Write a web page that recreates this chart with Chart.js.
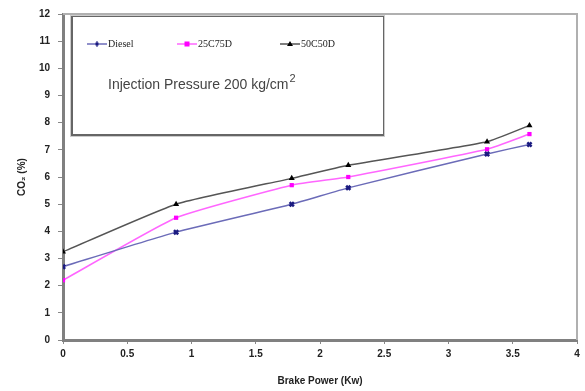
<!DOCTYPE html>
<html>
<head>
<meta charset="utf-8">
<script src="https://cdn.jsdelivr.net/npm/chart.js@4"></script>
<style>
  html, body { margin: 0; padding: 0; background: #fff; }
  #wrap { width: 585px; height: 391px; }
</style>
</head>
<body>
<div id="wrap"><canvas id="co2Chart" width="585" height="391"></canvas></div>
<script>
// brake power (kW) where readings were taken
const brakePower = [0, 0.88, 1.78, 2.22, 3.3, 3.63];

// CO2 (%) per fuel blend
const diesel = [2.7, 3.97, 5.0, 5.6, 6.85, 7.2];
const blend25C75D = [2.2, 4.5, 5.7, 6.0, 7.02, 7.58];
const blend50C50D = [3.25, 5.0, 5.95, 6.43, 7.3, 7.9];

const seriesNames = ["Diesel", "25C75D", "50C50D"];
const boxTitle = "Injection Pressure 200 kg/cm";

function toPoints(ys) {
    return brakePower.map((x, i) => ({ x: x, y: ys[i] }));
}

// legend box + frame drawn by hand, like the original Excel chart
const boxPlugin = {
    id: "boxPlugin",
    afterDraw(chart) {
        const ctx = chart.ctx;
        const a = chart.chartArea;
        ctx.save();

        // top / right frame of plot area
        ctx.strokeStyle = "#b0b0b0";
        ctx.lineWidth = 2;
        ctx.beginPath();
        ctx.moveTo(a.left, a.top);
        ctx.lineTo(a.right, a.top);
        ctx.lineTo(a.right, a.bottom);
        ctx.stroke();

        // legend box
        ctx.strokeStyle = "#666";
        ctx.lineWidth = 2;
        ctx.strokeRect(72, 16, 312, 119);
        ctx.strokeStyle = "#ccc";
        ctx.lineWidth = 1;
        ctx.strokeRect(70.5, 15.5, 314, 121);

        const items = [
            { x: 87, line: "#6b6bb8", mark: "#1a1a80", style: "cross" },
            { x: 177, line: "#ff66ff", mark: "#ff00ff", style: "rect" },
            { x: 280, line: "#555", mark: "#000", style: "triangle" }
        ];
        items.forEach((it, i) => {
            const y = 44;
            ctx.strokeStyle = it.line;
            ctx.lineWidth = 1.5;
            ctx.beginPath();
            ctx.moveTo(it.x, y);
            ctx.lineTo(it.x + 20, y);
            ctx.stroke();
            ctx.fillStyle = it.mark;
            const cx = it.x + 10;
            if (it.style === "rect") {
                ctx.fillRect(cx - 2.5, y - 2.5, 5, 5);
            } else if (it.style === "triangle") {
                ctx.beginPath();
                ctx.moveTo(cx, y - 3);
                ctx.lineTo(cx + 3, y + 2);
                ctx.lineTo(cx - 3, y + 2);
                ctx.closePath();
                ctx.fill();
            } else {
                ctx.fillRect(cx - 1.5, y - 1.5, 3, 3);
                ctx.fillRect(cx - 0.5, y - 3, 1, 6);
            }
            ctx.fillStyle = "#222";
            ctx.font = "10px 'Liberation Serif', serif";
            ctx.textBaseline = "middle";
            ctx.fillText(seriesNames[i], it.x + 21, y);
        });

        // box title with superscript 2
        ctx.fillStyle = "#444";
        ctx.font = "14px 'Liberation Sans', Arial, sans-serif";
        ctx.textBaseline = "alphabetic";
        ctx.fillText(boxTitle, 108, 89);
        const w = ctx.measureText(boxTitle).width;
        ctx.font = "11px 'Liberation Sans', Arial, sans-serif";
        ctx.fillText("2", 108 + w + 1, 82);

        ctx.restore();
    }
};

const tickFont = { family: "'Liberation Sans', Arial, sans-serif", size: 10, weight: "bold" };

new Chart(document.getElementById("co2Chart").getContext("2d"), {
    type: "line",
    data: {
        datasets: [
            {
                label: seriesNames[0],
                data: toPoints(diesel),
                borderColor: "#6b6bb8",
                backgroundColor: "#1a1a80",
                borderWidth: 1.5,
                tension: 0.15,
                pointStyle: "crossRot",
                pointRadius: 3,
                pointBorderColor: "#1a1a80",
                pointBorderWidth: 2.5
            },
            {
                label: seriesNames[1],
                data: toPoints(blend25C75D),
                borderColor: "#ff66ff",
                backgroundColor: "#ff00ff",
                borderWidth: 1.5,
                tension: 0.15,
                pointStyle: "rect",
                pointRadius: 3,
                pointBorderWidth: 0
            },
            {
                label: seriesNames[2],
                data: toPoints(blend50C50D),
                borderColor: "#555",
                backgroundColor: "#000",
                borderWidth: 1.5,
                tension: 0.15,
                pointStyle: "triangle",
                pointRadius: 3.5,
                pointBorderWidth: 0
            }
        ]
    },
    options: {
        responsive: false,
        animation: false,
        layout: { padding: { top: 11, right: 8, left: 12, bottom: 0 } },
        plugins: {
            legend: { display: false },
            tooltip: { enabled: false }
        },
        scales: {
            x: {
                type: "linear",
                min: 0,
                max: 4,
                ticks: {
                    stepSize: 0.5,
                    color: "#222",
                    font: tickFont,
                    padding: 4,
                    callback: v => String(v)
                },
                grid: { drawOnChartArea: false, drawTicks: true, tickLength: 4, color: "#888" },
                border: { display: true, color: "#808080", width: 3 },
                title: {
                    display: true,
                    text: "Brake Power (Kw)",
                    color: "#222",
                    font: tickFont,
                    padding: { top: 5 }
                },
                afterFit(scale) { scale.height = 51; }
            },
            y: {
                min: 0,
                max: 12,
                ticks: {
                    stepSize: 1,
                    color: "#222",
                    font: tickFont,
                    padding: 8
                },
                grid: { drawOnChartArea: false, drawTicks: true, tickLength: 5, color: "#888" },
                border: { display: true, color: "#808080", width: 3 },
                title: {
                    display: true,
                    text: "CO\u2082 (%)",
                    color: "#222",
                    font: tickFont,
                    padding: { bottom: 2 }
                },
                afterFit(scale) { scale.width = 51; }
            }
        }
    },
    plugins: [boxPlugin]
});
</script>
</body>
</html>
